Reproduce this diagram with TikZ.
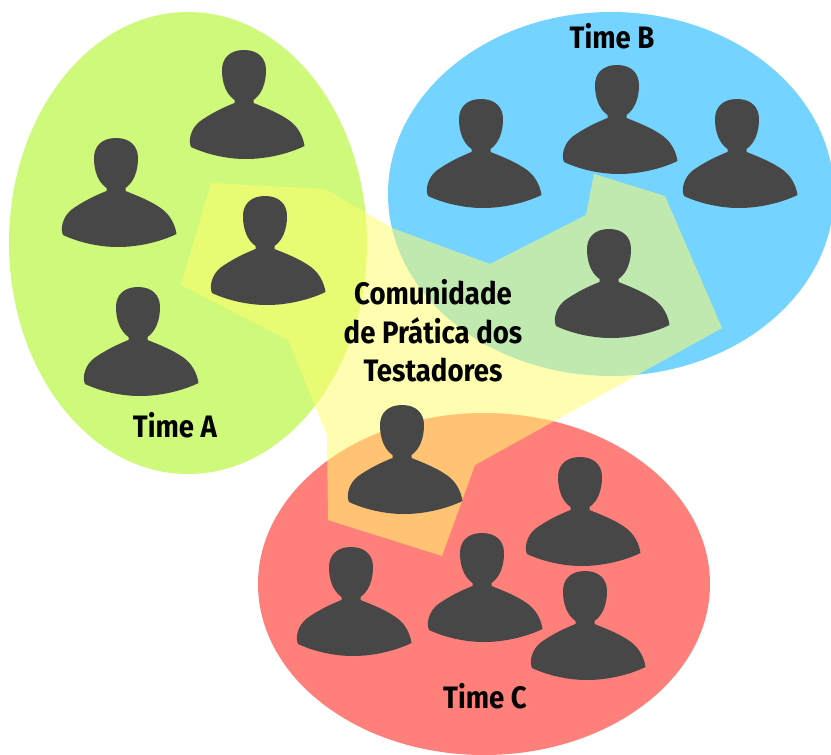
\documentclass[tikz,border=0pt]{standalone}
\usepackage{fontspec}
\setmainfont[BoldFont={Fira Sans Bold},BoldFeatures={FakeStretch=0.89}]{Fira Sans}
\definecolor{teamgreen}{RGB}{207,249,122}
\definecolor{teamblue}{RGB}{117,211,255}
\definecolor{teamred}{RGB}{255,127,123}
\definecolor{cop}{RGB}{255,252,110}
\definecolor{figure}{RGB}{71,71,71}
\tikzset{
  lbl/.style={font=\bfseries\fontsize{31}{38.5}\selectfont,text=black,align=center,inner sep=0pt},
  person/.pic={
    \fill[figure] (0,0) .. controls (14,0) and (22,8) .. (22,20)
      .. controls (22,33) and (18,44) .. (9.5,50)
      -- (9.5,53) .. controls (22,58) and (35,63) .. (46,71)
      .. controls (54,77) and (59,86) .. (60.5,96)
      .. controls (44,104) and (22,109) .. (2,109)
      .. controls (-18,109) and (-38,104) .. (-53,97)
      .. controls (-56,90) and (-53,79) .. (-45,72)
      .. controls (-34,64) and (-22,58) .. (-9.5,53)
      -- (-9.5,50) .. controls (-18,44) and (-22,33) .. (-22,20)
      .. controls (-22,8) and (-14,0) .. (0,0) -- cycle;
  }
}
\begin{document}
\begin{tikzpicture}[x=1pt,y=-1pt]
\useasboundingbox (0,0) rectangle (831,755);
\fill[teamgreen] (188,243) ellipse [x radius=179,y radius=231];
\fill[teamblue] (611,194) ellipse [x radius=223,y radius=182];
\fill[teamred] (484,584) ellipse [x radius=226,y radius=171];
\fill[cop,fill opacity=.55] (211,183) -- (325,189) -- (392,228) -- (490,264) -- (586,215) -- (594,174)
  -- (665,196) -- (722,328) -- (475,465) -- (442,556) -- (328,520) -- (327,435) -- (288,340) -- (181,285) -- cycle;
\foreach \px/\py in {244/50,116/138,265/196,138/287,481/99,617/65,737/99,609/229,402/405,580/457,351/547,482/533,585/571}
  \pic at (\px,\py) {person};
\node[lbl] (ta) at (175,425) {Time A};
\node[lbl] (tb) at (612,36) {Time B};
\node[lbl] (tc) at (485,696) {Time C};
\node[lbl] (cp) at (433,331) {Comunidade\\de Prática dos\\Testadores};
\end{tikzpicture}
\end{document}
